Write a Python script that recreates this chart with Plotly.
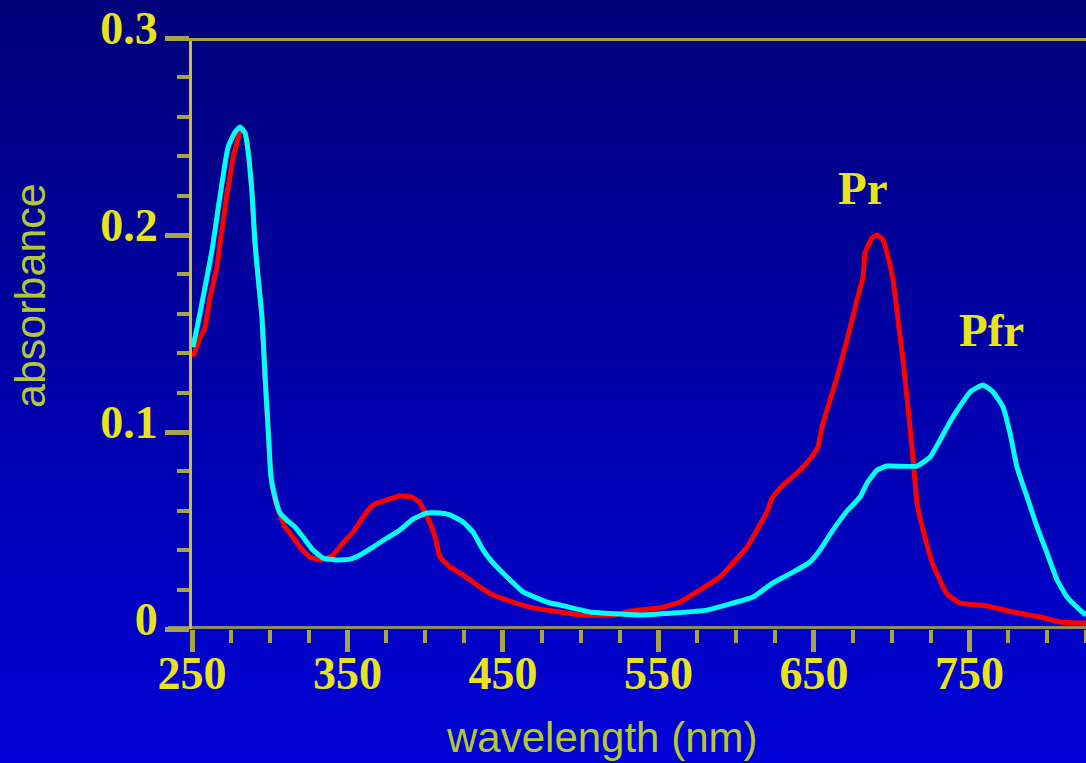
import plotly.graph_objects as go

# ---- data ----
pfr_wl = [250.6, 253.9, 258.4, 262.9, 266.7, 269.9, 273.2, 277.7, 280.9, 284.1, 286.0, 288.6,
          290.5, 292.5, 295.0, 297.0, 298.9, 300.8, 303.4, 306.6, 311.7, 316.2, 321.4, 327.8,
          334.3, 343.3, 351.6, 358.1, 366.4, 375.4, 383.8, 392.1, 401.2, 409.5, 415.9, 424.3,
          430.7, 437.2, 443.6, 450.0, 456.5, 462.9, 471.9, 480.3, 486.7, 506.0, 538.2, 559.4,
          581.2, 598.0, 610.8, 623.7, 636.6, 647.5, 653.9, 662.3, 671.3, 679.7, 684.2, 690.6,
          697.0, 716.3, 724.7, 731.1, 737.5, 744.0, 750.4, 758.8, 765.2, 771.6, 776.1, 780.6,
          787.1, 793.5, 799.9, 806.4, 812.8, 821.2, 825.0]
pfr_abs = [0.1431, 0.1553, 0.1736, 0.1924, 0.2127, 0.2294, 0.2447, 0.2523, 0.2548, 0.2518, 0.2431, 0.2213,
           0.1959, 0.1787, 0.1584, 0.1279, 0.1025, 0.0772, 0.0670, 0.0589, 0.0548, 0.0518, 0.0467, 0.0401,
           0.0360, 0.0350, 0.0355, 0.0376, 0.0416, 0.0462, 0.0503, 0.0558, 0.0589, 0.0589, 0.0579, 0.0543,
           0.0492, 0.0401, 0.0335, 0.0284, 0.0234, 0.0188, 0.0157, 0.0132, 0.0122, 0.0086, 0.0071, 0.0081,
           0.0096, 0.0132, 0.0162, 0.0234, 0.0289, 0.0340, 0.0401, 0.0503, 0.0599, 0.0670, 0.0741, 0.0807,
           0.0827, 0.0827, 0.0873, 0.0959, 0.1051, 0.1132, 0.1203, 0.1239, 0.1203, 0.1127, 0.0995, 0.0822,
           0.0670, 0.0518, 0.0386, 0.0249, 0.0162, 0.0096, 0.0071]

pr_wl = [250.6, 255.1, 258.4, 261.6, 266.1, 268.0, 269.9, 272.5, 274.4, 276.4, 278.9, 280.9,
         284.1, 286.0, 288.6, 290.5, 292.5, 295.0, 297.0, 298.9, 300.8, 303.4, 306.6, 309.8,
         313.0, 319.5, 325.9, 332.3, 340.7, 347.1, 353.6, 360.0, 366.4, 375.4, 383.8, 391.5,
         396.6, 399.9, 403.1, 406.3, 409.5, 415.9, 424.3, 433.3, 443.6, 456.5, 469.3, 486.7,
         499.6, 522.1, 531.7, 551.0, 563.9, 576.7, 589.6, 598.0, 607.0, 613.4, 619.8, 623.1,
         630.2, 639.1, 647.5, 652.6, 655.2, 658.4, 664.9, 671.3, 677.7, 681.6, 682.9, 687.4,
         690.6, 694.5, 697.7, 700.9, 704.1, 707.3, 710.5, 713.8, 716.3, 720.2, 726.6, 735.6,
         744.0, 761.3, 778.1, 795.4, 808.3, 825.0]
pr_abs = [0.1381, 0.1477, 0.1533, 0.1685, 0.1838, 0.1959, 0.2061, 0.2213, 0.2294, 0.2396, 0.2467, 0.2533,
          0.2518, 0.2431, 0.2213, 0.1959, 0.1787, 0.1584, 0.1279, 0.1025, 0.0772, 0.0655, 0.0579, 0.0518,
          0.0487, 0.0416, 0.0365, 0.0350, 0.0376, 0.0437, 0.0492, 0.0569, 0.0629, 0.0655, 0.0675, 0.0670,
          0.0640, 0.0589, 0.0538, 0.0467, 0.0365, 0.0315, 0.0274, 0.0223, 0.0173, 0.0137, 0.0107, 0.0086,
          0.0071, 0.0071, 0.0091, 0.0107, 0.0137, 0.0198, 0.0264, 0.0335, 0.0416, 0.0503, 0.0594, 0.0665,
          0.0731, 0.0792, 0.0863, 0.0924, 0.1025, 0.1112, 0.1279, 0.1467, 0.1670, 0.1787, 0.1909, 0.1985,
          0.2000, 0.1975, 0.1888, 0.1772, 0.1569, 0.1365, 0.1127, 0.0858, 0.0640, 0.0503, 0.0325, 0.0178,
          0.0132, 0.0117, 0.0086, 0.0061, 0.0036, 0.0030]

x_ticks = [250, 350, 450, 550, 650, 750]
x_tick_text = ["250", "350", "450", "550", "650", "750"]
y_ticks = [0, 0.1, 0.2, 0.3]
y_tick_text = ["0", "0.1", "0.2", "0.3"]

# ---- layout constants ----
W, H = 1086, 763
ML, MR, MT, MB = 192, 0, 38, 134
PH = H - MT - MB
PW = W - ML - MR

YELLOW = "#e8e41c"
TITLE_COL = "#b4c834"
TICK_COL = "#aaa448"

fig = go.Figure()
fig.add_trace(go.Scatter(x=pr_wl, y=pr_abs, mode="lines", name="Pr",
                         line=dict(color="#ff0000", width=5, shape="spline", smoothing=0.4)))
fig.add_trace(go.Scatter(x=pfr_wl, y=pfr_abs, mode="lines", name="Pfr",
                         line=dict(color="#00ffff", width=5, shape="spline", smoothing=0.4)))

# background gradient (dark navy at top -> bright blue at bottom)
shapes = []
N = 64
top_c = (0, 0, 122)
bot_c = (0, 2, 214)
for i in range(N):
    py0 = H * i / N
    py1 = H * (i + 1) / N + 1
    t = (i + 0.5) / N
    c = tuple(int(round(a + (b - a) * t)) for a, b in zip(top_c, bot_c))
    shapes.append(dict(type="rect", xref="paper", yref="paper", layer="below",
                       x0=-0.3, x1=1.05,
                       y0=(H - MB - py1) / PH, y1=(H - MB - py0) / PH,
                       fillcolor="rgb(%d,%d,%d)" % c, line=dict(width=0)))

x_left = (168 - ML) / PW
# top frame line at 0.3 and bottom axis line at 0
shapes.append(dict(type="line", xref="paper", yref="y", x0=x_left, x1=1, y0=0.3, y1=0.3,
                   line=dict(color="#a8a43c", width=6), layer="above"))
shapes.append(dict(type="line", xref="paper", yref="y", x0=x_left, x1=1, y0=0, y1=0,
                   line=dict(color="#8c8a62", width=6), layer="below"))

fig.update_layout(
    width=W, height=H, autosize=False,
    margin=dict(l=ML, r=MR, t=MT, b=MB, pad=0),
    paper_bgcolor="rgb(0,0,165)",
    plot_bgcolor="rgba(0,0,0,0)",
    showlegend=False,
    hovermode=False,
    shapes=shapes,
    xaxis=dict(range=[250, 825], showgrid=False, zeroline=False, showline=False,
               tickmode="array", tickvals=x_ticks, ticktext=x_tick_text,
               ticks="outside", ticklen=22, tickwidth=5, tickcolor=TICK_COL,
               ticklabelstandoff=-18,
               tickfont=dict(family="Liberation Serif", size=46, color=YELLOW, weight="bold"),
               minor=dict(dtick=25, tick0=250, ticks="outside", ticklen=13, tickwidth=4,
                          tickcolor=TICK_COL, showgrid=False)),
    yaxis=dict(range=[0, 0.3], showgrid=False, zeroline=False, showline=True,
               linecolor="#c8c030", linewidth=3,
               tickmode="array", tickvals=y_ticks, ticktext=y_tick_text,
               ticks="outside", ticklen=24, tickwidth=5, tickcolor=TICK_COL,
               ticklabelshift=-10, ticklabelstandoff=-2,
               tickfont=dict(family="Liberation Serif", size=46, color=YELLOW, weight="bold"),
               minor=dict(dtick=0.02, tick0=0, ticks="outside", ticklen=12, tickwidth=4,
                          tickcolor=TICK_COL, showgrid=False)),
    annotations=[
        dict(text="absorbance", xref="paper", yref="paper", textangle=-90,
             x=(30 - ML) / PW, y=(H - MB - 296) / PH, xanchor="center", yanchor="middle",
             showarrow=False, font=dict(family="Liberation Sans", size=43, color=TITLE_COL)),
        dict(text="wavelength (nm)", xref="paper", yref="paper",
             x=(601 - ML) / PW, y=(H - MB - 763) / PH, xanchor="center", yanchor="bottom",
             showarrow=False, font=dict(family="Liberation Sans", size=42, color=TITLE_COL)),
        dict(text="Pr", xref="x", yref="y", x=681.6, y=0.224,
             xanchor="center", yanchor="middle", showarrow=False,
             font=dict(family="Liberation Serif", size=47, color=YELLOW, weight="bold")),
        dict(text="Pfr", xref="x", yref="y", x=763.9, y=0.152,
             xanchor="center", yanchor="middle", showarrow=False,
             font=dict(family="Liberation Serif", size=47, color=YELLOW, weight="bold")),
    ],
)

fig.write_html("out.html", config={"displayModeBar": False},
               post_script="document.body.style.margin='0px';")
